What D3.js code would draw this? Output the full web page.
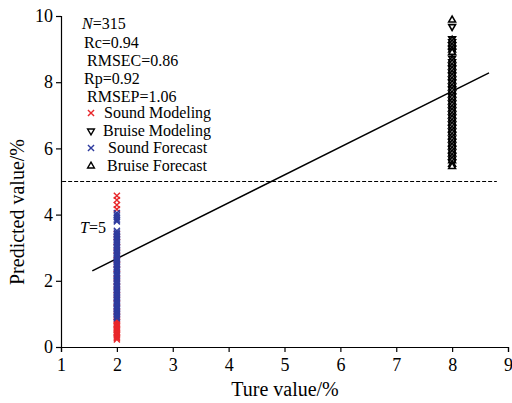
<!DOCTYPE html>
<html><head><meta charset="utf-8">
<script src="https://cdn.jsdelivr.net/npm/d3@7"></script>
<style>
html,body{margin:0;padding:0;background:#fff;}
svg{display:block;}
svg text{font-family:"Liberation Serif","Times New Roman","Tinos","Noto Serif","DejaVu Serif",serif !important;}
</style></head>
<body>
<svg id="c" width="512" height="403"></svg>
<script>
// ---- data ----
const xTicks = [1,2,3,4,5,6,7,8,9];
const yTicks = [0,2,4,6,8,10];
const statsLines = [
  {pre:"N", italic:true, text:"=315"},
  {pre:"", italic:false, text:"Rc=0.94"},
  {pre:"", italic:false, text:"RMSEC=0.86"},
  {pre:"", italic:false, text:"Rp=0.92"},
  {pre:"", italic:false, text:"RMSEP=1.06"}
];
const legendNames = ["Sound Modeling","Bruise Modeling","Sound Forecast","Bruise Forecast"];
const soundX = 2, bruiseX = 8;
const soundModeling = [4.57,4.44,4.29,4.16,3.41,3.32,3.18,3.03,2.91,2.77,2.62,2.49,2.36,2.21,2.07,1.96,1.83,1.71,1.57,1.46,1.33,1.21,1.09,0.99,0.91,
  0.83,0.79,0.75,0.70,0.66,0.63,0.58,0.54,0.51,0.46,0.43,0.38,0.35,0.31,0.27,0.23];
const soundForecast = [4.05,3.99,3.94,3.88,3.83,3.79,
  3.51,3.46,3.41,3.37,3.32,3.27,3.22,3.18,3.13,3.08,3.03,2.99,2.94,2.89,2.84,2.80,2.75,2.70,2.66,2.61,2.56,2.51,2.47,2.42,2.37,2.33,2.28,2.23,2.18,2.14,2.09,2.04,1.99,1.95,1.90,1.85,1.81,1.76,1.71,1.67,1.62,1.57,1.52,1.48,1.43,1.38,1.34,1.29,1.24,1.19,1.15,1.10,1.05,1.01,0.96,0.91,0.87];
const bruiseModeling = [9.68,9.31,9.22,9.12,9.02,8.93,
  8.72,8.62,8.51,8.41,8.30,8.20,8.09,7.99,7.88,7.78,7.67,7.57,7.46,7.36,7.25,7.15,7.04,6.94,6.83,6.73,6.62,6.52,6.41,6.31,6.20,6.10,5.99,5.89,5.78,5.68,5.58];
const bruiseForecast = [9.88,9.27,9.17,9.07,8.97,8.90,
  8.67,8.57,8.46,8.36,8.25,8.15,8.04,7.94,7.83,7.73,7.62,7.52,7.41,7.31,7.20,7.10,6.99,6.89,6.78,6.68,6.57,6.47,6.36,6.26,6.15,6.05,5.94,5.84,5.73,5.63,5.52,5.45];
const fitLine = [[1.56,2.30],[8.66,8.28]];
const threshold = [[1.02,5],[8.8,5]];

// ---- chart ----
const svg = d3.select("#c");
const x = d3.scaleLinear().domain([1,9]).range([61,508]);
const y = d3.scaleLinear().domain([0,10]).range([347,16]);

const xAxis = svg.append("g").attr("transform","translate(0,347)")
  .call(d3.axisBottom(x).tickValues(xTicks).tickSize(5).tickPadding(3).tickFormat(d3.format("d")));
const yAxis = svg.append("g").attr("transform","translate(61,0)")
  .call(d3.axisLeft(y).tickValues(yTicks).tickSize(5).tickPadding(3).tickFormat(d3.format("d")));
[xAxis,yAxis].forEach(a=>{
  a.attr("font-family",null);
  a.selectAll("path").attr("stroke","#000").attr("stroke-width",1.2);
  a.selectAll("line").attr("stroke","#000").attr("stroke-width",1.2);
  a.selectAll("text").attr("font-size",18).attr("fill","#000");
});
xAxis.selectAll("text").attr("dy","0.9em");

svg.append("text").attr("x",285).attr("y",396).attr("text-anchor","middle")
  .attr("font-size",20).text("Ture value/%");
svg.append("text").attr("transform","translate(24,212) rotate(-90)").attr("text-anchor","middle")
  .attr("font-size",20).text("Predicted value/%");

// threshold dashed line
const line = d3.line().x(d=>x(d[0])).y(d=>y(d[1]));
svg.append("path").attr("d",line(threshold)).attr("stroke","#000").attr("stroke-width",1.1)
  .attr("stroke-dasharray","4,2").attr("fill","none");
svg.append("path").attr("d",line(fitLine)).attr("stroke","#000").attr("stroke-width",1.5).attr("fill","none");

const cross = d3.symbol().type(d3.symbolX).size(26);
const triUp = d3.symbol().type(d3.symbolTriangle).size(20);

function drawX(vals, xv, color){
  svg.append("g").selectAll("path").data(vals).join("path")
    .attr("d",cross).attr("transform",d=>`translate(${x(xv)},${y(d)})`)
    .attr("fill","none").attr("stroke",color).attr("stroke-width",1.4);
}
function drawTri(vals, xv, down){
  svg.append("g").selectAll("path").data(vals).join("path")
    .attr("d",triUp).attr("transform",d=>`translate(${x(xv)},${y(d)})${down?" rotate(180)":""}`)
    .attr("fill","#fff").attr("stroke","#000").attr("stroke-width",1.6);
}
drawX(soundModeling, soundX, "#e8262a");
drawX(soundForecast, soundX, "#2e3b9e");
drawTri(bruiseModeling, bruiseX, true);
drawTri(bruiseForecast, bruiseX, false);

// stats text
const statX = [82,84,87,84,87];
const statY = [29,48,66,84,102];
statsLines.forEach((s,i)=>{
  const t = svg.append("text").attr("x",statX[i]).attr("y",statY[i]).attr("font-size",16);
  if(s.pre) t.append("tspan").attr("font-style","italic").text(s.pre);
  t.append("tspan").text(s.text);
});
// legend
const legY = [118,136,153,171];
const legTX = [104,103,108,107];
const legColors = ["#e8262a","#000","#2e3b9e","#000"];
legendNames.forEach((n,i)=>{
  const cy = legY[i]-5;
  if(i===0||i===2){
    svg.append("path").attr("d",cross).attr("transform",`translate(91,${cy})`)
      .attr("fill","none").attr("stroke",legColors[i]).attr("stroke-width",1.4);
  } else {
    svg.append("path").attr("d",triUp).attr("transform",`translate(91,${cy})${i===1?" rotate(180)":""}`)
      .attr("fill","#fff").attr("stroke","#000").attr("stroke-width",1.4);
  }
  svg.append("text").attr("x",legTX[i]).attr("y",legY[i]).attr("font-size",16).text(n);
});
// T=5
const tt = svg.append("text").attr("x",80).attr("y",233).attr("font-size",16);
tt.append("tspan").attr("font-style","italic").text("T");
tt.append("tspan").text("=5");
</script>
</body></html>
